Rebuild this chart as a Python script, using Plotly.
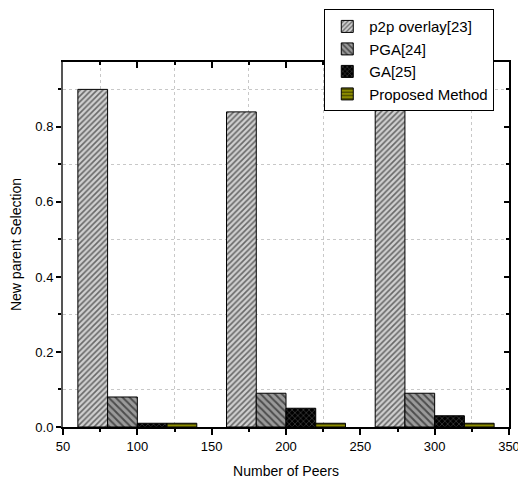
import plotly.graph_objects as go

peers = [100, 200, 300]
series_names = ["p2p overlay[23]", "PGA[24]", "GA[25]", "Proposed Method"]
p2p_overlay = [0.90, 0.84, 0.85]
pga = [0.08, 0.09, 0.09]
ga = [0.01, 0.05, 0.03]
proposed = [0.01, 0.01, 0.01]
x_ticks = [50, 100, 150, 200, 250, 300, 350]
y_ticks = [0.0, 0.2, 0.4, 0.6, 0.8]

values = [p2p_overlay, pga, ga, proposed]
offsets = [-40, -20, 0, 20]
styles = [
    dict(bg="#d0d0d0", fg="#000000", shape="/", size=4, sol=0.4),
    dict(bg="#9a9a9a", fg="#000000", shape="\\", size=5, sol=0.4),
    dict(bg="#000000", fg="#8a8a8a", shape="x", size=4, sol=0.3),
    dict(bg="#8c8c00", fg="#000000", shape="-", size=4, sol=0.4),
]

FONT = "Liberation Sans, Arial, sans-serif"
fig = go.Figure()
for name, vals, off, st in zip(series_names, values, offsets, styles):
    fig.add_trace(go.Bar(
        x=peers, y=vals, name=name, width=20, offset=off,
        marker=dict(color=st["bg"], line=dict(color="#000000", width=1),
                    pattern=dict(shape=st["shape"], fgcolor=st["fg"], bgcolor=st["bg"],
                                 size=st["size"], solidity=st["sol"], fillmode="overlay")),
    ))

# invisible trace for the mirrored top/right axes
fig.add_trace(go.Scatter(x=[50], y=[0], xaxis="x2", yaxis="y2", mode="markers",
                         marker=dict(opacity=0), showlegend=False, hoverinfo="skip"))

fig.update_layout(
    width=518, height=482,
    margin=dict(l=63, r=9, t=62, b=55, autoexpand=False),
    paper_bgcolor="white", plot_bgcolor="white",
    barmode="overlay",
    font=dict(family=FONT, size=12, color="#000000"),
    showlegend=True,
    legend=dict(xref="container", yref="container", x=0.626, y=0.981,
                xanchor="left", yanchor="top",
                bgcolor="white", bordercolor="#000000", borderwidth=1,
                font=dict(family=FONT, size=15), tracegroupgap=0, itemwidth=34),
    xaxis=dict(range=[50, 350], tickvals=x_ticks, ticks="outside", ticklen=6, tickwidth=1.5,
               tickcolor="#000000", showline=True, linecolor="#000000", linewidth=2,
               showgrid=False, zeroline=False, automargin=False, ticklabeloverflow="allow",
               minor=dict(dtick=50, tick0=75, ticks="outside", ticklen=3, tickcolor="#000000",
                          showgrid=True, gridcolor="#c8c8c8", griddash="dot", gridwidth=1),
               title=dict(text="Number of Peers", font=dict(size=14), standoff=14),
               tickfont=dict(size=13)),
    yaxis=dict(range=[0, 0.973], tickvals=y_ticks, tickformat=".1f", ticks="outside", ticklen=5,
               tickwidth=1.5, tickcolor="#000000", showline=True, linecolor="#555555", linewidth=2,
               showgrid=False, zeroline=False, automargin=False,
               minor=dict(dtick=0.2, tick0=0.1, ticks="outside", ticklen=3, tickcolor="#000000",
                          showgrid=True, gridcolor="#c8c8c8", griddash="dot", gridwidth=1),
               title=dict(text="New parent Selection", font=dict(size=14), standoff=10),
               tickfont=dict(size=13)),
    xaxis2=dict(range=[50, 350], overlaying="x", side="top", anchor="y2", tickvals=x_ticks,
                ticks="inside", ticklen=6, tickwidth=1.5, tickcolor="#000000",
                showticklabels=False, showline=True, linecolor="#000000", linewidth=1.5,
                showgrid=False, zeroline=False, automargin=False,
                minor=dict(dtick=50, tick0=75, ticks="inside", ticklen=3, tickcolor="#000000")),
    yaxis2=dict(range=[0, 0.973], overlaying="y", side="right", anchor="x2", tickvals=y_ticks,
                ticks="inside", ticklen=5, tickwidth=1.5, tickcolor="#000000",
                showticklabels=False, showline=True, linecolor="#000000", linewidth=1.5,
                showgrid=False, zeroline=False, automargin=False,
                minor=dict(dtick=0.2, tick0=0.1, ticks="inside", ticklen=3, tickcolor="#000000")),
)

fig.write_html("out.html", config={"displayModeBar": False})
# remove the browser's default body margin so the figure sits at the page origin
with open("out.html", "r", encoding="utf-8") as f:
    html = f.read()
html = html.replace("<body>", '<body style="margin:0;padding:0;overflow:hidden">', 1)
with open("out.html", "w", encoding="utf-8") as f:
    f.write(html)
